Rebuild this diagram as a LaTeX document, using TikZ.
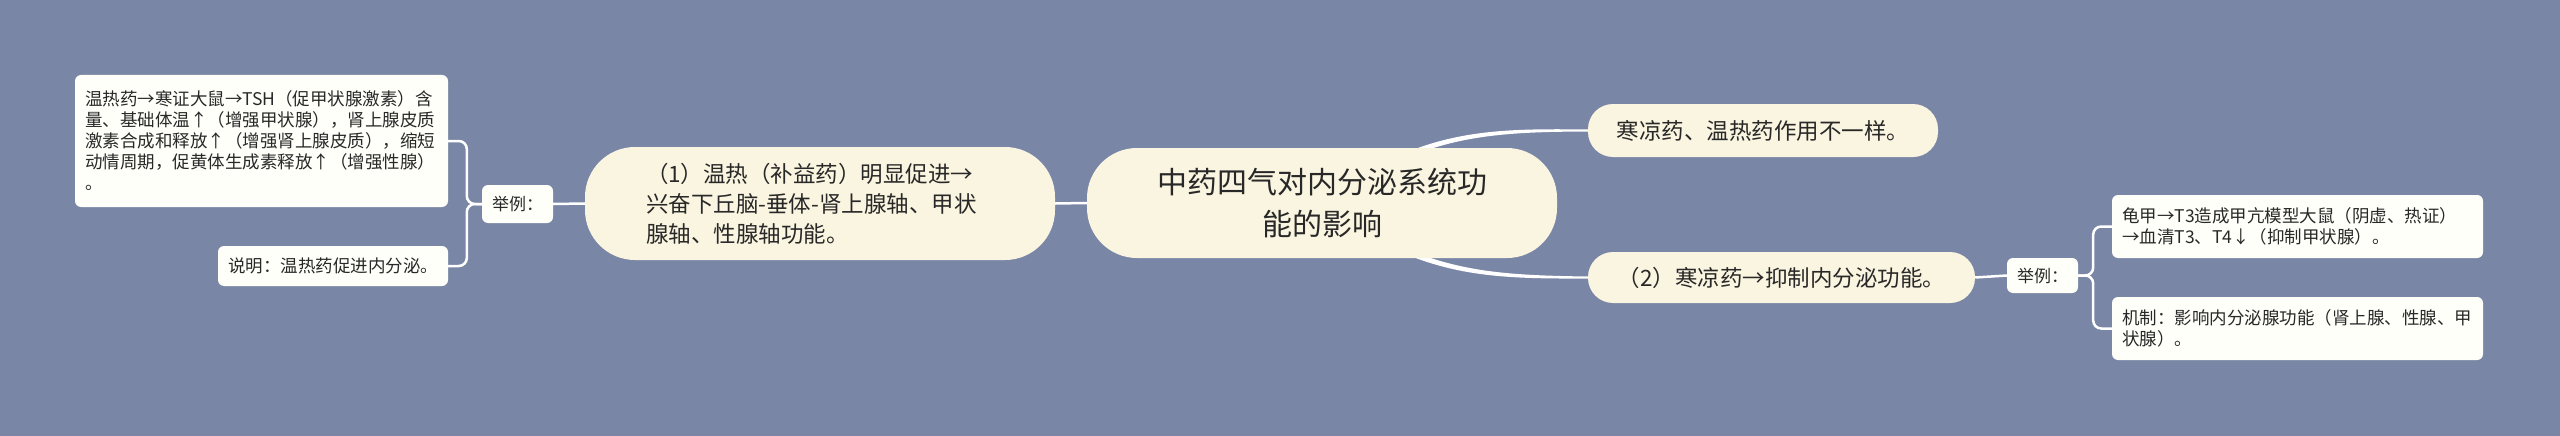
\documentclass[tikz,border=0pt]{standalone}
\usepackage{fontspec}
\setmainfont{Noto Sans CJK SC}
\usepackage{xcolor}
\usetikzlibrary{calc}

\definecolor{bgblue}{RGB}{122,134,166}
\definecolor{cream}{RGB}{250,245,224}
\definecolor{leafwhite}{RGB}{255,255,250}
\definecolor{inkgray}{RGB}{40,40,40}

\begin{document}
\begin{tikzpicture}[x=1pt, y=-1pt,
    every node/.style={text=inkgray, inner sep=0pt},
    root/.style={fill=cream, rounded corners=50pt, minimum width=470pt, minimum height=110pt,
      align=center, font=\fontsize{30}{42}\selectfont},
    topic/.style={fill=cream, rounded corners=25pt, align=left, font=\fontsize{22.5}{30}\selectfont},
    tag/.style={fill=leafwhite, rounded corners=6pt, minimum width=71pt, font=\fontsize{17}{20}\selectfont},
    leaf/.style={fill=leafwhite, rounded corners=6pt, inner xsep=10pt, align=left,
      font=\fontsize{17.5}{21}\selectfont},
    link/.style={draw=white, line width=2.5pt, rounded corners=8pt},
    branch/.style={fill=white}]

      \fill[bgblue] (0,0) rectangle (2560,436);

      \coordinate (hub) at (1322,203);

      \node[topic, minimum width=350pt, minimum height=53pt] (diff) at (1763,130.5)
        {寒凉药、温热药作用不一样。};
      \node[topic, minimum width=387pt, minimum height=51pt] (cold) at (1781.5,277.5)
        {（2）寒凉药→抑制内分泌功能。};

      \fill[branch] ([yshift=-3pt]hub) .. controls (1420,137) and (1480,132) .. ([yshift=-1pt]diff.west)
        -- ([yshift=1pt]diff.west) .. controls (1480,128) and (1420,131) .. ([yshift=3pt]hub) -- cycle;
      \fill[branch] ([yshift=3pt]hub) .. controls (1420,270) and (1480,275) .. ([yshift=1pt]cold.west)
        -- ([yshift=-1pt]cold.west) .. controls (1480,279) and (1420,276) .. ([yshift=-3pt]hub) -- cycle;

      \node[root] (ctr) at (hub) {中药四气对内分泌系统功\\能的影响};

      \node[topic, rounded corners=50pt, text width=348pt, minimum width=470pt, minimum height=113pt] (warm) at (820,203.5)
        {（1）温热（补益药）明显促进→\\兴奋下丘脑-垂体-肾上腺轴、甲状\\腺轴、性腺轴功能。};

      \node[tag, minimum height=38pt] (exwarm) at (517.5,204) {举例：};
      \node[tag, minimum height=35pt] (excold) at (2042.5,275.5) {举例：};

      \node[leaf, text width=353pt, minimum height=132pt] (tsh) at (261.5,141)
        {温热药→寒证大鼠→TSH（促甲状腺激素）含\\量、基础体温↑（增强甲状腺），肾上腺皮质\\激素合成和释放↑（增强肾上腺皮质），缩短\\动情周期，促黄体生成素释放↑（增强性腺）\\。};
      \node[leaf, text width=210pt, minimum height=40pt] (note) at (333,266)
        {说明：温热药促进内分泌。};
      \node[leaf, text width=351pt, minimum height=63pt] (turtle) at (2297.5,226.5)
        {龟甲→T3造成甲亢模型大鼠（阴虚、热证）\\→血清T3、T4↓（抑制甲状腺）。};
      \node[leaf, text width=351pt, minimum height=63pt] (mech) at (2297.5,328.5)
        {机制：影响内分泌腺功能（肾上腺、性腺、甲\\状腺）。};

      \draw[link] (warm.east) -- (ctr.west);
      \draw[link] (exwarm.east) -- (warm.west);
      \draw[link] (exwarm.west) -- ++(-15,0) |- (tsh.east);
      \draw[link] (exwarm.west) -- ++(-15,0) |- (note.east);
      \draw[link] (cold.east) -- (excold.west);
      \draw[link] (excold.east) -- ++(15,0) |- (turtle.west);
      \draw[link] (excold.east) -- ++(15,0) |- (mech.west);
    \end{tikzpicture}
\end{document}
